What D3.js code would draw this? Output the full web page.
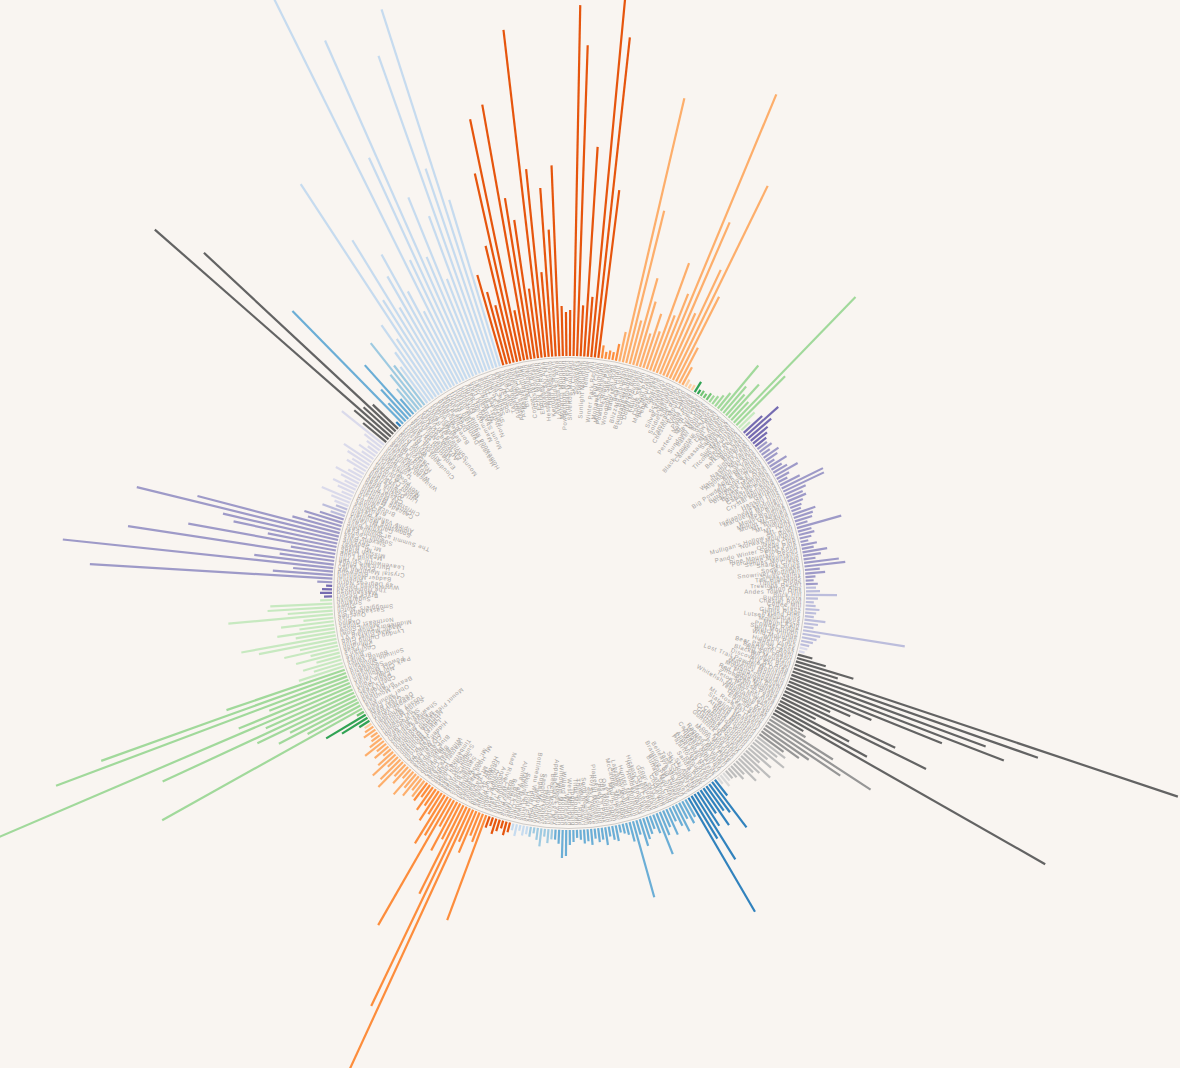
<!DOCTYPE html>
<html><head><meta charset="utf-8">
<script src="https://cdn.jsdelivr.net/npm/d3@7"></script>
<style>html,body{margin:0;padding:0;background:#f9f5f1;}svg{display:block;}</style>
</head><body>
<script>
const states = ["Alabama","Alaska","Arizona","California","Colorado","Connecticut","Idaho","Illinois","Indiana","Iowa","Maine","Maryland","Massachusetts","Michigan","Minnesota","Missouri","Montana","Nevada","New Hampshire","New Jersey","New Mexico","New York","North Carolina","North Dakota","Ohio","Oregon","Pennsylvania","Rhode Island","South Dakota","Tennessee","Utah","Vermont","Virginia","Washington","West Virginia","Wisconsin","Wyoming"];

const resortNames = [
["Cloudmont Ski Resort"],
["Alyeska Resort","Arctic Valley","Eaglecrest Ski Area","Hilltop Ski Area","Moose Mountain"],
["Arizona Snowbowl","Elk Ridge Ski Area","Mount Lemmon Ski Valley","Sunrise Park Resort"],
["Badger Pass","Bear Mountain","Bear Valley","Boreal Mountain","China Peak","Dodge Ridge","Donner Ski Ranch","Heavenly Mountain Resort","Homewood Mountain Resort","June Mountain","Kirkwood","Mammoth Mountain","Mount Baldy","Mount Shasta Ski Park","Mountain High","Mt. Waterman","Northstar California","Palisades Tahoe","Sierra-at-Tahoe","Snow Summit","Snow Valley","Soda Springs","Sugar Bowl","Tahoe Donner"],
["Arapahoe Basin","Aspen Highlands","Aspen Mountain","Beaver Creek","Breckenridge","Buttermilk","Copper Mountain","Crested Butte","Echo Mountain","Eldora Mountain","Granby Ranch","Hesperus Ski Area","Howelsen Hill","Kendall Mountain","Keystone Resort","Loveland Ski Area","Monarch Mountain","Powderhorn Mountain","Purgatory Resort","Silverton Mountain","Ski Cooper","Snowmass","Steamboat","Sunlight Mountain","Telluride","Vail","Winter Park Resort","Wolf Creek"],
["Mohawk Mountain","Mount Southington","Powder Ridge Park","Ski Sundown","Woodbury Ski Area"],
["Bald Mountain","Bear Gulch","Blizzard Mountain","Bogus Basin","Brundage Mountain","Cottonwood Butte","Dollar Mountain","Kelly Canyon","Little Ski Hill","Lookout Pass","Magic Mountain","Pebble Creek","Pomerelle","Rotarun","Schweitzer","Silver Mountain","Snowhaven","Soldier Mountain","Sun Valley","Tamarack Resort"],
["Chestnut Mountain","Four Lakes","Villa Olivia"],
["Paoli Peaks","Perfect North Slopes"],
["Mt. Crescent","Seven Oaks","Sundown Mountain"],
["Baker Mountain","Big Rock","Black Mountain of Maine","Camden Snow Bowl","Lost Valley","Mt. Abram","Pleasant Mountain","Saddleback","Sugarloaf","Sunday River","Titcomb Mountain"],
["Deep Creek","Wisp Resort"],
["Berkshire East","Bousquet","Butternut","Jiminy Peak","Nashoba Valley","Wachusett Mountain"],
["Algonquin Ski Area","Alpine Valley","Apple Mountain","Big Powderhorn Mountain","Big Snow Resort","Bittersweet Ski Area","Blackjack Mountain","Boyne Highlands","Boyne Mountain","Caberfae Peaks","Cannonsburg","Crystal Mountain","Garland","Hanson Hills","Hickory Hills","Indianhead Mountain","Marquette Mountain","Mont Ripley","Mount Bohemia","Mount Grampian","Mount McSauba","Mt. Brighton","Mt. Holiday","Mt. Holly","Mt. Zion","Mulligan's Hollow Ski Bowl","Norway Mountain","Nub's Nob","Otsego Club","Pando Winter Sports Park","Pine Knob","Pine Mountain Resort","Porcupine Mountains","Schuss Mountain","Shanty Creek","Ski Brule","Snow Snake","Snowriver Mountain","Swiss Valley","The Highlands","Timber Ridge","Treetops Resort"],
["Afton Alps","Andes Tower Hills","Buck Hill","Buena Vista","Chester Bowl","Coffee Mill","Elm Creek","Giants Ridge","Hyland Hills","Lutsen Mountains","Mount Itasca","Mount Kato","Powder Ridge","Spirit Mountain","Welch Village","Wild Mountain","Wirth Park"],
["Hidden Valley","Snow Creek"],
["Bear Paw Ski Bowl","Beartooth Basin","Big Sky Resort","Blacktail Mountain","Bridger Bowl","Discovery Ski Area","Great Divide","Lost Trail Powder Mountain","Marshall Mountain","Maverick Mountain","Montana Snowbowl","Moonlight Basin","Red Lodge Mountain","Showdown Montana","Spanish Peaks","Teton Pass Ski Area","Turner Mountain","Whitefish Mountain Resort","Yellowstone Club"],
["Diamond Peak","Elko SnoBowl","Lee Canyon","Mt. Rose Ski Tahoe","Sky Tavern","Stateline Heavenly","Ward Mountain"],
["Attitash Mountain","Black Mountain","Bretton Woods","Cannon Mountain","Cranmore Mountain","Crotched Mountain","Dartmouth Skiway","Gunstock Mountain","King Pine","Loon Mountain","Mount Sunapee","Pats Peak","Ragged Mountain","Waterville Valley"],
["Campgaw Mountain","Hidden Valley NJ","Mountain Creek"],
["Angel Fire Resort","Enchanted Forest","Pajarito Mountain","Red River","Sandia Peak","Sipapu","Ski Apache","Ski Cloudcroft","Ski Santa Fe","Taos Ski Valley"],
["Belleayre Mountain","Big Tupper","Brantling Ski Slopes","Bristol Mountain","Buffalo Ski Club","Catamount","Cockaigne","Dry Hill","Four Seasons","Gore Mountain","Greek Peak","Hickory Ski Center","Holiday Mountain","Holiday Valley","HoliMont","Hunter Mountain","Kissing Bridge","Labrador Mountain","Maple Ski Ridge","McCauley Mountain","Mount Peter","Mt. Pisgah","Oak Mountain","Otis Mountain","Peek'n Peak","Plattekill Mountain","Royal Mountain","Ski Venture","Snow Ridge","Song Mountain","Swain Resort","Thunder Ridge","Titus Mountain","Toggenburg","West Mountain","Whiteface","Willard Mountain","Windham Mountain","Woods Valley"],
["Appalachian Ski Mtn","Beech Mountain","Cataloochee","Hawksnest","Sapphire Valley","Sugar Mountain","Wolf Ridge"],
["Bottineau Winter Park","Frost Fire","Huff Hills","Skyline Skiway","Table Mountain"],
["Alpine Valley Ohio","Big Creek","Boston Mills","Brandywine","Clear Fork","Mad River Mountain","Snow Trails"],
["Anthony Lakes","Cooper Spur","Dixie Summit","Ferguson Ridge","Hoodoo Ski Area","Mt. Ashland","Mt. Bachelor","Mt. Bailey","Mt. Hood Meadows","Mt. Hood Skibowl","Multorpor","Santiam Pass","Snow Bunny","Spout Springs","Summit Ski Area","Teacup Lake","Timberline Lodge","Tollgate","Warner Canyon","Willamette Pass"],
["Bear Creek","Big Boulder","Blue Knob","Blue Mountain","Camelback","Crystal Lake","Elk Mountain","Hidden Valley PA","Jack Frost","Laurel Mountain","Liberty Mountain","Montage Mountain","Mount Pleasant of Edinboro","Mystic Mountain","Seven Springs","Shawnee Mountain","Ski Big Bear","Ski Roundtop","Ski Sawmill","Spring Mountain","Tussey Mountain","Whitetail"],
["Yawgoo Valley"],
["Deer Mountain","Great Bear","Terry Peak"],
["Ober Mountain"],
["Alta","Beaver Mountain","Brian Head","Brighton","Cherry Peak","Deer Valley","Eagle Point","Nordic Valley","Park City Mountain","Powder Mountain","Snowbasin","Snowbird","Solitude Mountain"],
["Bolton Valley","Bromley","Burke","Cochran's","Jay Peak","Killington","Lyndon Outing Club","Mad River Glen","Magic Mountain VT","Middlebury Snow Bowl","Mount Snow","Northeast Slopes","Okemo","Pico","Quechee","Saskadena Six","Smugglers' Notch","Stowe","Stratton","Sugarbush"],
["Bryce Resort","Massanutten","The Homestead","Wintergreen Resort"],
["49 Degrees North","Alpental","Badger Mountain","Bluewood","Crystal Mountain WA","Echo Valley","Hurricane Ridge","Leavenworth Ski Hill","Loup Loup","Meany Lodge","Mission Ridge","Mt. Baker","Mt. Spokane","Sitzmark","Stevens Pass","Summit Central","Summit East","The Summit at Snoqualmie","White Pass"],
["Canaan Valley","Snowshoe Mountain","Timberline Mountain"],
["Alpine Valley Resort","Ausblick","Blackhawk","Bruce Mound","Camp 10","Cascade Mountain","Christie Mountain","Christmas Mountain","Crystal Ridge","Devil's Head","Granite Peak","Little Switzerland","Mount Ashwabay","Mount La Crosse","Nordic Mountain","Powers Bluff","Sunburst","Trollhaugen","Tyrol Basin","Whitecap Mountains","Wilmot Mountain"],
["Antelope Butte","Grand Targhee","Hogadon Basin","Jackson Hole","Snow King","White Pine"]
];

const resortValues = [
[6],
[158,25,40,69,20],
[30,45,82,50],
[45,60,90,70,252,110,177,95,128,150,105,80,460,132,242,367,128,190,100,165,333,211,376,174],
[94,75,60,120,193,247,51,259,163,140,70,330,189,85,169,127,191,50,44,46,351,311,51,210,60,370,322,169],
[13,7,9,8,17],
[30,271,157,45,90,67,35,57,40,114,60,85,303,167,70,120,216,95,40,20],
[8,5,6],
[12,5],
[6,5,8],
[8,10,14,20,59,35,28,45,25,175,69],
[22,12],
[25,43,30,22,18,14],
[12,15,10,18,14,8,20,12,16,26,14,10,22,46,45,23,18,20,15,12,10,24,20,18,12,46,14,16,12,8,16,12,25,18,12,35,41,15,20,10,8,12],
[10,14,31,12,8,10,14,11,9,21,14,10,103,18,15,12,9],
[8,6],
[15,30,60,45,405,260,207,229,165,91,70,50,124,161,40,80,103,311,35],
[40,75,123,90,55,46,30],
[35,28,40,22,30,18,36,25,20,28,15,18,12,10],
[10,14,8],
[20,57,35,30,45,28,40,77,50,132],
[20,25,18,30,22,15,28,18,25,44,20,14,18,22,28,15,79,20,12,10,8,16,14,10,18,12,14,10,16,12,14,10,8,12,15,26,28,14,10],
[10,14,8,18,12,6,10],
[8,10,6,12,7],
[10,14,8,12,16,9,12],
[112,30,25,45,35,330,221,99,40,55,30,146,45,57,25,35,20,28,15,22],
[20,15,25,18,30,12,22,16,35,28,14,31,20,10,18,12,24,15,10,8,14,10],
[8],
[12,30,46],
[8],
[229,60,90,75,109,211,95,440,120,85,311,260,125],
[47,30,40,25,45,29,55,38,79,96,40,58,35,53,30,105,45,65,62,12],
[8,12,10,6],
[15,243,60,40,272,80,55,209,45,150,70,106,118,208,147,50,35,40,25],
[15,25,12],
[15,20,32,12,18,25,14,20,28,16,12,22,18,26,33,14,20,12,16,22,54],
[30,45,314,40,262,35]
];

const palette20c = ["#3182bd","#6baed6","#9ecae1","#c6dbef","#e6550d","#fd8d3c","#fdae6b","#fdd0a2","#31a354","#74c476","#a1d99b","#c7e9c0","#756bb1","#9e9ac8","#bcbddc","#dadaeb","#636363","#969696","#bdbdbd","#d9d9d9"];

const W = 1180, H = 1068, cx = 569, cy = 593, innerR = 237;

const rows = states.flatMap((s, si) => resortNames[si].map((n, j) => ({state: s, name: n, value: resortValues[si][j]})));

const N = rows.length;
const step = 2 * Math.PI / N;
const start = -45.3 * Math.PI / 180 - step / 2;

const x = d3.scaleBand().domain(d3.range(N)).range([start, start + 2 * Math.PI]).padding(0);
const y = d3.scaleLinear().domain([0, 460]).range([innerR, innerR + 460]);
const color = d3.scaleOrdinal(states, palette20c);

const svg = d3.select("body").append("svg").attr("width", W).attr("height", H);
svg.append("rect").attr("width", W).attr("height", H).attr("fill", "#f9f5f1");
const g = svg.append("g").attr("transform", `translate(${cx},${cy})`);

const ang = i => x(i) + x.bandwidth() / 2;

g.append("g").selectAll("line").data(rows).join("line")
  .attr("x1", (d, i) => Math.sin(ang(i)) * y(0))
  .attr("y1", (d, i) => -Math.cos(ang(i)) * y(0))
  .attr("x2", (d, i) => Math.sin(ang(i)) * y(d.value))
  .attr("y2", (d, i) => -Math.cos(ang(i)) * y(d.value))
  .attr("stroke", d => color(d.state))
  .attr("stroke-width", 2.2);

g.append("circle").attr("r", innerR - 1.5).attr("fill", "none").attr("stroke", "#c4c0bc").attr("stroke-width", 0.8);

g.append("g").selectAll("text").data(rows).join("text")
  .attr("transform", (d, i) => `rotate(${ang(i) * 180 / Math.PI - 90}) translate(${innerR - 4},0)`)
  .attr("text-anchor", "end")
  .attr("dominant-baseline", "central")
  .attr("font-family", "Liberation Sans, Arial, sans-serif")
  .attr("font-size", 6)
  .attr("letter-spacing", 0.6)
  .attr("fill", "#a3a09d")
  .text(d => d.name);
</script>
</body></html>
